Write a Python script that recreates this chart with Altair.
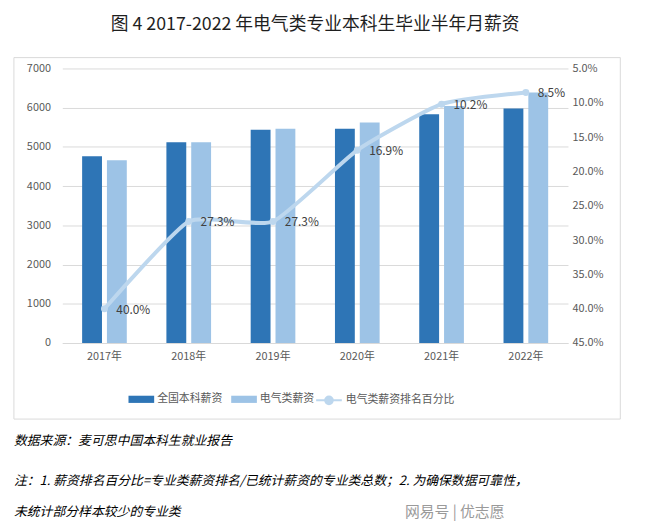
import altair as alt
import pandas as pd

years = ["2017年", "2018年", "2019年", "2020年", "2021年", "2022年"]
national = [4760, 5120, 5440, 5460, 5830, 5980]
electrical = [4660, 5120, 5460, 5620, 6045, 6390]
rank_pct = [0.400, 0.273, 0.273, 0.169, 0.102, 0.085]
series_names = ["全国本科薪资", "电气类薪资"]
line_name = "电气类薪资排名百分比"

title_text = "图 4 2017-2022 年电气类专业本科生毕业半年月薪资"
note1 = "数据来源：麦可思中国本科生就业报告"
note2 = "注：1. 薪资排名百分比=专业类薪资排名/已统计薪资的专业类总数；2. 为确保数据可靠性，"
note3 = "未统计部分样本较少的专业类"
source_mark = "网易号 | 优志愿"

FONT = "Noto Sans CJK SC"
DARK = "#2e75b6"
LIGHT = "#9dc3e6"
LINEC = "#bdd7ee"
GRID = "#d9d9d9"
LABEL = "#595959"

bars_df = pd.DataFrame({
    "year": years * 2,
    "series": [series_names[0]] * len(years) + [series_names[1]] * len(years),
    "value": national + electrical,
})
line_df = pd.DataFrame({"year": years, "pct": rank_pct, "name": [line_name] * len(years)})

xenc = alt.X("year:N", sort=years, title=None,
             scale=alt.Scale(paddingInner=0.47, paddingOuter=0.235),
             axis=alt.Axis(labelAngle=0, ticks=False, domainColor=GRID, labelColor=LABEL,
                           labelFontSize=11, labelPadding=8, labelFont=FONT))

bars = alt.Chart(bars_df).mark_bar().encode(
    x=xenc,
    xOffset=alt.XOffset("series:N", sort=series_names,
                        scale=alt.Scale(paddingInner=0.2, paddingOuter=0)),
    y=alt.Y("value:Q", title=None,
            scale=alt.Scale(domain=[0, 7000], nice=False),
            axis=alt.Axis(values=list(range(0, 7001, 1000)), format="d", ticks=False, domain=False,
                          gridColor=GRID, labelColor=LABEL, labelFontSize=11, labelPadding=12)),
    fill=alt.Fill("series:N", sort=series_names,
                  scale=alt.Scale(domain=series_names, range=[DARK, LIGHT]),
                  legend=alt.Legend(orient="none", legendX=67, legendY=322, direction="horizontal",
                                    title=None, symbolType="M-1,-0.28H1V0.28H-1Z",
                                    symbolSize=676, symbolStrokeWidth=0,
                                    labelFontSize=11, labelColor=LABEL, columnPadding=9,
                                    labelOffset=3)),
)

yscale = alt.Scale(domain=[0.05, 0.45], reverse=True, nice=False, zero=False)
yright = alt.Y("pct:Q", title=None, scale=yscale,
               axis=alt.Axis(orient="right", format=".1%",
                             values=[0.05, 0.10, 0.15, 0.20, 0.25, 0.30, 0.35, 0.40, 0.45],
                             ticks=False, domain=False, grid=False, labelColor=LABEL,
                             labelFontSize=11, labelPadding=4))

line = alt.Chart(line_df).mark_line(interpolate="cardinal", tension=0.5, strokeWidth=4).encode(
    x=alt.X("year:N", sort=years),
    y=yright,
    stroke=alt.Stroke("name:N", scale=alt.Scale(domain=[line_name], range=[LINEC]),
                      legend=alt.Legend(orient="none", legendX=256, legendY=322, title=None,
                                        symbolType="M-1,0H-0.3M0.3,0H1M0.3,0A0.3,0.3 0 1,1 -0.3,0A0.3,0.3 0 1,1 0.3,0",
                                        symbolSize=676, symbolStrokeWidth=2,
                                        symbolFillColor=LINEC,
                                        labelFontSize=11, labelColor=LABEL, labelOffset=3)),
)
points = alt.Chart(line_df).mark_point(filled=True, size=50, color=LINEC, opacity=1).encode(
    x=alt.X("year:N", sort=years),
    y=yright,
)
labels = alt.Chart(line_df).mark_text(align="left", dx=12, dy=1, fontSize=12, color="#404040").encode(
    x=alt.X("year:N", sort=years),
    y=yright,
    text=alt.Text("pct:Q", format=".1%"),
)

one = alt.Data(values=[{}])
box = alt.Chart(one).mark_rect(fill=None, stroke=GRID, strokeWidth=1).encode(
    x=alt.value(-49), x2=alt.value(565), y=alt.value(-11), y2=alt.value(355))

def note(txt, x, y, size=13, color="#000000", style="italic"):
    return alt.Chart(one).mark_text(text=txt, align="left", baseline="middle", fontSize=size,
                                    fontStyle=style, color=color, font=FONT).encode(
        x=alt.value(x), y=alt.value(y))

n1 = note(note1, -49, 377)
n2 = note(note2, -49, 418)
n3 = note(note3, -49, 449)
n4 = note(source_mark, 347, 449, size=15, color="#9a9a9a", style="normal")

right = alt.layer(line, points, labels)
chart = alt.layer(box, bars, right, n1, n2, n3, n4).resolve_scale(
    y="independent", fill="independent", stroke="independent"
).properties(
    width=512, height=278,
    autosize=alt.AutoSizeParams(type="none"),
    padding={"left": 55, "top": 58, "right": 80, "bottom": 178},
    title=alt.TitleParams(title_text, fontSize=18, font=FONT, fontWeight="normal",
                          color="#1f1f1f", anchor="middle", offset=23),
).configure(font=FONT).configure_view(stroke=None)

chart.save("out.html", embed_options={"renderer": "svg", "actions": False})
